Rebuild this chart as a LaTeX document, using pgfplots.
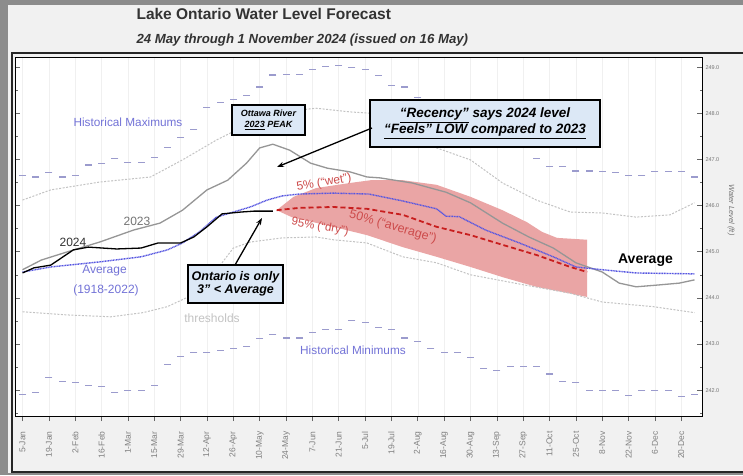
\documentclass[border=0pt]{standalone}
\usepackage{pgfplots}
\pgfplotsset{compat=1.18}
\usepackage{fontspec}
\setmainfont{Liberation Sans}
\usetikzlibrary{arrows.meta}
\definecolor{avgblue}{RGB}{85,85,225}
\definecolor{histc}{RGB}{155,155,205}
\definecolor{lav}{RGB}{115,115,215}
\definecolor{bandc}{RGB}{234,165,165}
\definecolor{fcred}{RGB}{200,30,30}
\definecolor{redtxt}{RGB}{205,75,75}
\definecolor{boxblue}{RGB}{220,232,246}
\definecolor{thrc}{RGB}{195,195,195}
\definecolor{g23}{RGB}{150,150,150}
\definecolor{bgc}{RGB}{241,241,241}
\definecolor{framec}{RGB}{140,140,140}
\begin{document}
\begin{tikzpicture}
\useasboundingbox (0,0) rectangle (743pt,475pt);
\fill[framec] (0,0) rectangle (743pt,475pt);
\fill[bgc] (8pt,2pt) rectangle (743pt,470pt);
\begin{axis}[
  at={(15pt,59pt)}, anchor=south west, scale only axis,
  width=687pt, height=359pt,
  xmin=1, xmax=366, ymin=241.44, ymax=249.22,
  axis background/.style={fill=white},
  axis line style={black, line width=0.7pt},
  xtick={5,19,...,355},
  xticklabels={5-Jan,19-Jan,2-Feb,16-Feb,1-Mar,15-Mar,29-Mar,12-Apr,26-Apr,10-May,24-May,7-Jun,21-Jun,5-Jul,19-Jul,2-Aug,16-Aug,30-Aug,13-Sep,27-Sep,11-Oct,25-Oct,8-Nov,22-Nov,6-Dec,20-Dec},
  xticklabel style={rotate=90, anchor=east, font=\fontsize{8.5}{10}\selectfont, text=black!50},
  xticklabel shift=7pt,
  xtick pos=bottom, xtick align=outside,
  x tick style={black!60, line width=0.6pt},
  xmajorgrids, x grid style={black!6, line width=0.5pt},
  ytick={242,...,249}, minor ytick={241.5,242.5,...,248.5},
  yticklabel pos=right,
  yticklabel style={font=\fontsize{5.5}{6}\selectfont, text=black!55, /pgf/number format/.cd, fixed, fixed zerofill, precision=1, assume math mode=true},
  y tick style={black!60, line width=0.5pt},
  major tick length=5pt, minor tick length=2.5pt,
]
% forecast band
\addplot[fill=bandc, draw=none] coordinates {
 (140,245.90) (149,246.19) (161,246.38) (179,246.49) (190,246.55) (207,246.55) (225,246.45) (243,246.19) (260,245.90) (273,245.64) (281,245.43) (289,245.30) (305,245.26)
 (305,244.02) (278,244.24) (260,244.45) (243,244.67) (225,244.89) (207,245.10) (188,245.36) (170,245.54) (148,245.75) (140,245.90)} -- cycle;
% thresholds
\addplot[thrc, line width=1pt, dash pattern=on 2pt off 1.5pt] coordinates {
 (5,246.12) (20,246.34) (46,246.51) (73,246.62) (90,246.99) (108,247.42) (126,247.79) (143,248.03) (161,248.11) (179,248.03) (190,248.00) (207,247.65) (225,247.25) (243,246.99) (260,246.49) (278,246.12) (296,245.86) (313,245.84) (331,245.75) (349,245.80) (362,246.06)};
\addplot[thrc, line width=1pt, dash pattern=on 2pt off 1.5pt] coordinates {
 (5,243.70) (29,243.63) (52,243.59) (69,243.68) (82,243.81) (93,244.02) (103,244.39) (111,244.76) (117,245.08) (126,245.21) (143,245.30) (161,245.32) (170,245.26) (188,245.19) (207,244.89) (225,244.76) (243,244.50) (269,244.30) (296,244.10) (313,243.91) (340,243.81) (362,243.68)};
% historical maximums
\addplot[only marks, mark=-, mark size=3.5pt, mark options={histc, line width=1.1pt}] coordinates {
 (5,246.66) (12,246.62) (19,246.71) (26,246.62) (33,246.66) (40,246.88) (47,246.92) (54,247.03) (61,246.94) (68,246.94) (75,247.05) (82,247.25) (89,247.48) (96,247.64) (103,248.13) (110,248.24) (117,248.29) (124,248.39) (131,248.57) (138,248.83) (145,248.85) (152,248.85) (159,248.94) (166,249.02) (173,249.04) (180,249.00) (187,248.94) (194,248.81) (201,248.61) (208,248.57) (215,248.35) (222,248.21) (229,248.07) (236,247.93) (243,247.80) (250,247.66) (257,247.52) (264,247.39) (271,247.25) (278,247.03) (285,246.84) (292,246.84) (299,246.75) (306,246.75) (313,246.73) (320,246.71) (327,246.66) (334,246.66) (341,246.73) (348,246.73) (355,246.73) (362,246.62)};
% historical minimums
\addplot[only marks, mark=-, mark size=3.5pt, mark options={histc, line width=1.1pt}] coordinates {
 (5,241.90) (12,241.94) (19,242.27) (26,242.18) (33,242.16) (40,242.10) (47,242.07) (54,241.94) (61,241.99) (68,241.99) (75,242.10) (82,242.55) (89,242.72) (96,242.81) (103,242.81) (110,242.85) (117,242.90) (124,242.94) (131,243.11) (138,243.20) (145,243.13) (152,243.13) (159,243.24) (166,243.31) (173,243.31) (180,243.50) (187,243.46) (194,243.35) (201,243.31) (208,243.13) (215,243.05) (222,242.90) (229,242.81) (236,242.81) (243,242.70) (250,242.46) (257,242.42) (264,242.51) (271,242.51) (278,242.51) (285,242.35) (292,242.18) (299,242.16) (306,241.99) (313,241.99) (320,241.99) (327,241.88) (334,241.99) (341,241.99) (348,241.99) (355,241.86) (362,241.90)};
% 2023
\addplot[g23, line width=1.3pt] coordinates {
 (5,244.61) (15,244.82) (29,245.00) (46,245.21) (64,245.47) (78,245.62) (90,245.90) (103,246.34) (114,246.55) (124,246.92) (131,247.25) (138,247.33) (147,247.20) (158,246.92) (167,246.81) (179,246.73) (188,246.62) (195,246.60) (212,246.49) (230,246.29) (243,246.06) (260,245.62) (274,245.32) (287,245.08) (299,244.76) (313,244.56) (322,244.32) (331,244.24) (343,244.28) (354,244.32) (362,244.39)};
% average
\addplot[avgblue, line width=1.4pt, dash pattern=on 1pt off 0.6pt] coordinates {
 (5,244.56) (20,244.67) (46,244.78) (68,244.89) (82,245.04) (90,245.19) (99,245.43) (108,245.75) (117,245.86) (126,245.97) (135,246.12) (143,246.21) (152,246.25) (170,246.27) (189,246.25) (207,246.10) (225,245.93) (230,245.77) (237,245.76) (251,245.47) (269,245.19) (287,244.89) (299,244.67) (313,244.61) (331,244.54) (362,244.52)};
% 2024
\addplot[black, line width=1.3pt] coordinates {
 (5,244.54) (11,244.65) (20,244.71) (32,245.04) (40,245.10) (55,245.06) (68,245.08) (77,245.19) (89,245.19) (96,245.32) (103,245.54) (111,245.82) (121,245.86) (128,245.88) (138,245.88)};
% 50% forecast
\addplot[fcred, line width=1.8pt, dash pattern=on 5pt off 3pt] coordinates {
 (140,245.90) (152,245.95) (170,245.97) (188,245.93) (207,245.80) (225,245.54) (243,245.36) (260,245.15) (278,244.93) (296,244.67) (305,244.56)};
\end{axis}
\begin{scope}[x=1pt,y=1pt]
\draw[line width=1.8pt, black!85] (743,422) -- (12,422) -- (12,3) -- (743,3);
\node[anchor=base west, font=\bfseries\fontsize{15.5}{17}\selectfont, text=black!80] at (133,455) {Lake Ontario Water Level Forecast};
\node[anchor=base west, font=\bfseries\itshape\fontsize{13.2}{15}\selectfont, text=black!80] at (133,431) {24 May through 1 November 2024 (issued on 16 May)};
\node[text=lav, font=\fontsize{11.8}{13}\selectfont] at (128,353) {Historical Maximums};
\node[text=lav, font=\fontsize{11.8}{13}\selectfont] at (353,125) {Historical Minimums};
\node[text=thrc, font=\fontsize{12}{13}\selectfont] at (212,157) {thresholds};
\node[text=lav, font=\fontsize{12}{13}\selectfont] at (104.5,204) {Average};
\node[text=lav, font=\fontsize{12}{13}\selectfont] at (106,185) {(1918-2022)};
\node[text=black!55, font=\fontsize{12}{13}\selectfont] at (137,254) {2023};
\node[text=black!80, font=\fontsize{12}{13}\selectfont] at (73,233) {2024};
\node[text=redtxt, rotate=10, font=\fontsize{12}{13}\selectfont] at (324,292) {5\% (“wet”)};
\node[text=redtxt, rotate=-16, font=\fontsize{12.5}{14}\selectfont] at (393,248) {50\% (“average”)};
\node[text=redtxt, rotate=-10, font=\fontsize{11.5}{13}\selectfont] at (320,248) {95\% (“dry”)};
\node[text=black, font=\bfseries\fontsize{14}{15}\selectfont] at (645.5,215) {Average};
\node[rotate=-90, font=\itshape\fontsize{7.5}{8}\selectfont, text=black!55] at (731,265) {Water Level (ft)};
\node[draw=black, line width=1.2pt, fill=boxblue, minimum width=73pt, minimum height=30pt, align=center, inner sep=1pt, font=\bfseries\itshape\fontsize{9}{10.5}\selectfont] at (268.5,355) {Ottawa River\\\underline{2023} PEAK};
\node[draw=black, line width=2pt, fill=boxblue, minimum width=230pt, minimum height=47pt, align=center, inner sep=1pt, font=\bfseries\itshape\fontsize{13.5}{16}\selectfont] at (485,351.5) {\underline{“Recency”} says 2024 level\\\underline{“Feels” LOW compared to 2023}};
\node[draw=black, line width=1.5pt, fill=boxblue, minimum width=95pt, minimum height=38pt, align=center, inner sep=1pt, font=\bfseries\itshape\fontsize{12.5}{13.5}\selectfont] at (235.5,191) {Ontario is only\\3" < Average};
\draw[-{Stealth[length=7pt,width=5pt]}, line width=1.3pt] (372,347) -- (277,308);
\draw[-{Stealth[length=7pt,width=5pt]}, line width=1.3pt] (235,210) -- (262,257);
\end{scope}
\end{tikzpicture}
\end{document}
